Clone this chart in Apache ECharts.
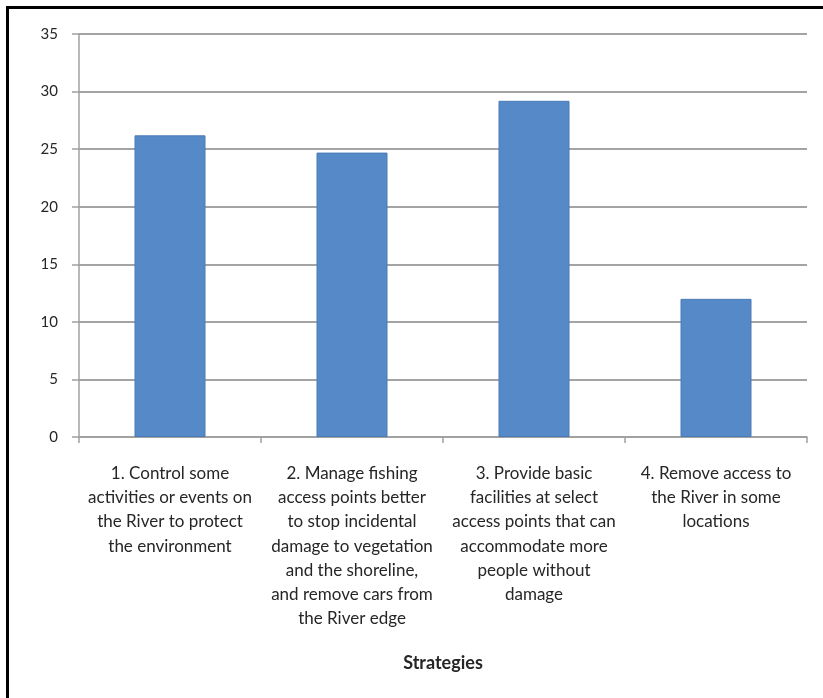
<!DOCTYPE html>
<html>
<head>
<meta charset="utf-8">
<script src="https://cdn.jsdelivr.net/npm/echarts@6/dist/echarts.min.js"></script>
<style>
  html, body { margin: 0; padding: 0; background: #fff; }
  #chart { width: 823px; height: 698px; }
</style>
</head>
<body>
<div id="chart"></div>
<script>
// Strategy categories (line breaks as shown under each bar)
const categories = [
  '1. Control some\nactivities or events on\nthe River to protect\nthe environment',
  '2. Manage fishing\naccess points better\nto stop incidental\ndamage to vegetation\nand the shoreline,\nand remove cars from\nthe River edge',
  '3. Provide basic\nfacilities at select\naccess points that can\naccommodate more\npeople without\ndamage',
  '4. Remove access to\nthe River in some\nlocations'
];

// Support for each strategy
const values = [26.2, 24.7, 29.2, 12.0];

// Value axis range
const yMin = 0;
const yMax = 35;
const yStep = 5;

const xAxisTitle = 'Strategies';

const chart = echarts.init(document.getElementById('chart'), null, { renderer: 'canvas' });

const textColor = '#262626';
const gridColor = '#a4a4a4';
const fontFamily = 'Lato, "Open Sans", sans-serif';

chart.setOption({
  animation: false,
  backgroundColor: '#ffffff',
  grid: { left: 79, right: 16, top: 34, bottom: 261, containLabel: false },
  xAxis: {
    type: 'category',
    data: categories,
    name: xAxisTitle,
    nameLocation: 'middle',
    nameGap: 217,
    nameTextStyle: { fontFamily, fontSize: 18, fontWeight: 'bold', color: textColor },
    axisLine: { lineStyle: { color: '#a0a0a0', width: 1.5 } },
    axisTick: { show: true, length: 6, lineStyle: { color: '#a0a0a0', width: 1.5 } },
    axisLabel: {
      interval: 0,
      margin: 24,
      fontFamily,
      fontSize: 17,
      lineHeight: 24.3,
      color: textColor,
      align: 'center'
    }
  },
  yAxis: {
    type: 'value',
    min: yMin,
    max: yMax,
    interval: yStep,
    axisLine: { show: true, lineStyle: { color: '#a0a0a0', width: 1.5 } },
    axisTick: { show: true, length: 7, lineStyle: { color: '#a0a0a0', width: 1.5 } },
    axisLabel: { margin: 21, fontFamily, fontSize: 15, color: textColor },
    splitLine: { show: true, lineStyle: { color: gridColor, width: 2 } }
  },
  series: [{
    type: 'bar',
    data: values,
    barWidth: 71,
    itemStyle: { color: '#5689c8', borderColor: '#4a7bb8', borderWidth: 1 }
  }],
  graphic: [
    // Frame around the chart (left and top edges)
    { type: 'rect', left: 6, top: 6, shape: { width: 3, height: 692 }, style: { fill: '#000' }, silent: true },
    { type: 'rect', left: 6, top: 6, shape: { width: 817, height: 3 }, style: { fill: '#000' }, silent: true }
  ]
});
</script>
</body>
</html>
